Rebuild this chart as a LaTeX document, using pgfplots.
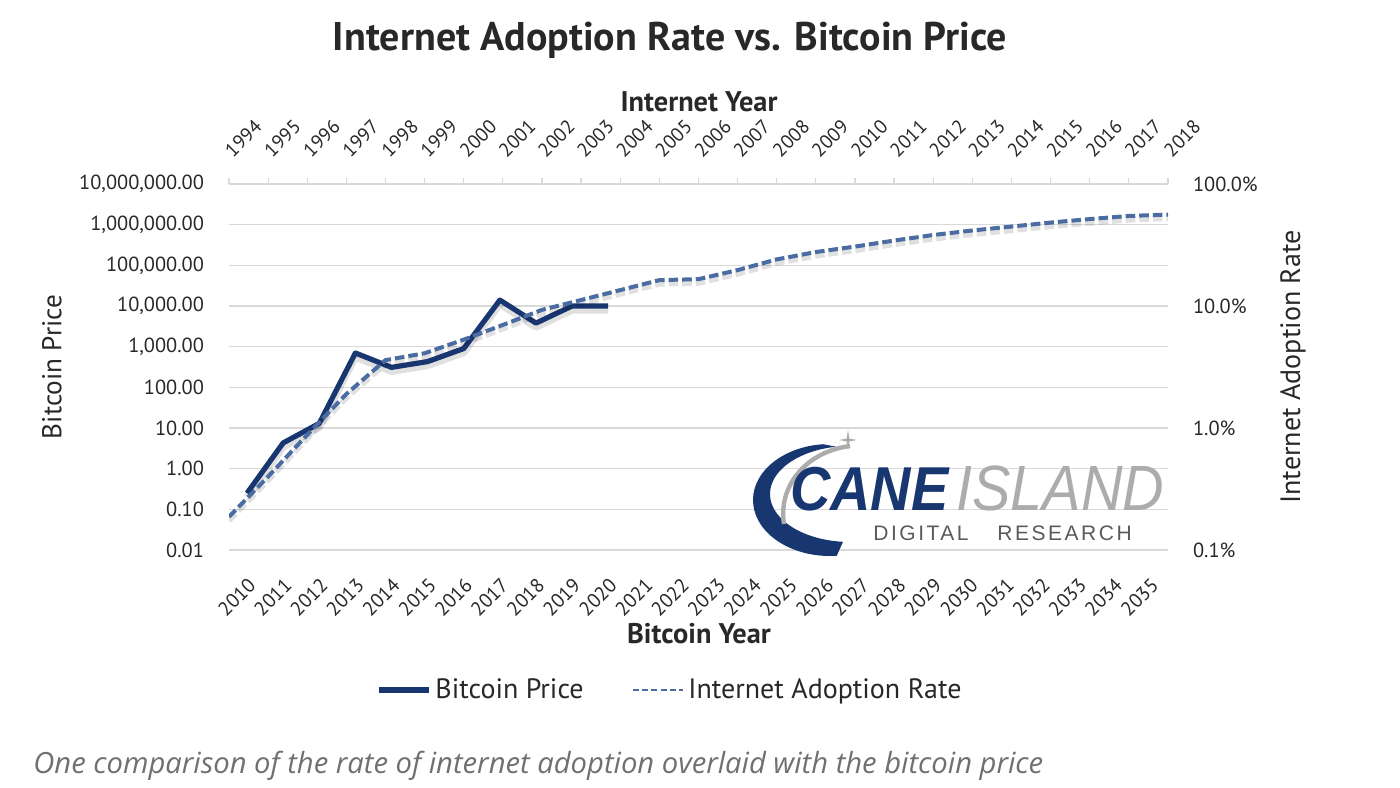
\documentclass[border=0pt]{standalone}
\usepackage{pgfplots}
\usepackage{pgfplotstable}
\pgfplotsset{compat=1.18}
\usepackage{fontspec}
\setmainfont{PT Sans}
\newfontfamily\capfont{Open Sans}
\newfontfamily\logofont[FakeStretch=0.9]{Liberation Sans}
\newfontfamily\logosmall[LetterSpace=12]{Liberation Sans}
\definecolor{btc}{RGB}{24,54,112}
\definecolor{inet}{RGB}{74,108,162}
\definecolor{gridc}{RGB}{217,217,217}
\definecolor{txt}{RGB}{40,40,40}
\definecolor{lgray}{RGB}{172,172,172}
\definecolor{dgray}{RGB}{90,90,90}
\definecolor{capc}{RGB}{112,112,112}

\pgfplotstableread{
year price
2010 0.25
2011 4.3
2012 13
2013 700
2014 310
2015 430
2016 900
2017 14000
2018 3800
2019 10000
2020 10000
}\btcdata

\pgfplotstableread{
year pct
1994 0.187
1995 0.40
1996 0.88
1997 1.9
1998 3.6
1999 4.1
2000 5.3
2001 7.0
2002 9.3
2003 11.2
2004 13.5
2005 16.3
2006 16.6
2007 19.7
2008 24.1
2009 27.7
2010 30.7
2011 34.4
2012 38.2
2013 41.6
2014 44.8
2015 48.3
2016 51.6
2017 54.7
2018 56.2
}\inetdata

\begin{document}
\begin{tikzpicture}
\useasboundingbox (0pt,0pt) rectangle (700pt,-393.5pt);

\begin{axis}[scale only axis, width=469.5pt, height=183pt,
  at={(114.5pt,-275pt)}, anchor=south west, ymode=log,
  axis line style={draw=none},
  yminorticks=false, xminorticks=false,
  tick label style={font=\fontsize{10.2}{12}\selectfont, text=txt},
  xmin=2009.5, xmax=2035.5, ymin=0.01, ymax=1e7,
  xtick={2010,...,2035},
  xticklabels={2010,2011,2012,2013,2014,2015,2016,2017,2018,2019,2020,2021,2022,2023,2024,2025,2026,2027,2028,2029,2030,2031,2032,2033,2034,2035},
  xtick pos=bottom, ytick pos=left, major tick length=0pt,
  xticklabel style={rotate=45, anchor=east, yshift=-13pt, xshift=-6pt, font=\fontsize{9.9}{11}\selectfont},
  ytick={0.01,0.1,1,10,100,1000,10000,100000,1000000,10000000},
  yticklabels={0.01,0.10,1.00,10.00,100.00,{1,000.00},{10,000.00},{100,000.00},{1,000,000.00},{10,000,000.00}},
  yticklabel style={xshift=-9pt},
  ymajorgrids, grid style={gridc, line width=0.6pt},
  legend style={at={(0.150,-0.3825)}, anchor=west, draw=none, fill=none,
    legend columns=2, font=\fontsize{14}{16}\selectfont, text=txt,
    /tikz/every even column/.append style={column sep=22pt}},
  legend image code/.code={\draw[#1] (0pt,0pt) -- (25pt,0pt);},
]
\addplot[forget plot, black, opacity=0.12, line width=3.6pt, line join=round, yshift=-2pt] table[x=year,y=price]{\btcdata};
\addplot[btc, line width=2.6pt, line join=round] table[x=year,y=price]{\btcdata};
\addlegendentry{Bitcoin Price}
\addlegendimage{inet, line width=1.4pt, dash pattern=on 3pt off 1.6pt}
\addlegendentry{Internet Adoption Rate}
\end{axis}

\begin{axis}[scale only axis, width=469.5pt, height=183pt,
  at={(114.5pt,-275pt)}, anchor=south west, ymode=log,
  axis line style={draw=none},
  yminorticks=false, xminorticks=false,
  tick label style={font=\fontsize{10.2}{12}\selectfont, text=txt},
  xmin=1994, xmax=2018, ymin=0.1, ymax=100,
  xtick={1994,...,2018},
  xticklabels={1994,1995,1996,1997,1998,1999,2000,2001,2002,2003,2004,2005,2006,2007,2008,2009,2010,2011,2012,2013,2014,2015,2016,2017,2018},
  xtick pos=top, xticklabel pos=top, ytick pos=right, yticklabel pos=right,
  tick align=outside, major tick length=3pt,
  x tick style={gridc, line width=0.6pt}, y tick style={draw=none},
  xticklabel style={rotate=45, anchor=west, yshift=9pt, xshift=5pt, font=\fontsize{9.7}{11}\selectfont},
  ytick={0.1,1,10,100},
  yticklabels={0.1\%,1.0\%,10.0\%,100.0\%},
  yticklabel style={xshift=6pt},
]
\addplot[black, opacity=0.12, line width=2.6pt, dash pattern=on 4.8pt off 2pt, yshift=-2pt] table[x=year,y=pct]{\inetdata};
\addplot[inet, line width=2pt, dash pattern=on 4.8pt off 2pt] table[x=year,y=pct]{\inetdata};
\end{axis}

% titles and labels
\node[font=\fontsize{20}{23}\selectfont\bfseries, text=txt] at (335pt,-20pt) {Internet Adoption Rate vs. Bitcoin Price};
\node[font=\fontsize{14.2}{16}\selectfont\bfseries, text=txt] at (349.5pt,-51pt) {Internet Year};
\node[font=\fontsize{14.2}{16}\selectfont\bfseries, text=txt] at (349.5pt,-317pt) {Bitcoin Year};
\node[font=\fontsize{13.6}{15}\selectfont, text=txt, rotate=90] at (26pt,-183.5pt) {Bitcoin Price};
\node[font=\fontsize{14}{15}\selectfont, text=txt, rotate=90] at (646.5pt,-183.5pt) {Internet Adoption Rate};
\node[font=\capfont\itshape\fontsize{14.6}{17}\selectfont, text=capc, anchor=west, inner sep=0pt] at (16.5pt,-383pt) {One comparison of the rate of internet adoption overlaid with the bitcoin price};

% logo
\fill[btc] (415pt,-250pt) ++(95:38.5pt and 28pt) arc[start angle=95, end angle=275, x radius=38.5pt, y radius=28pt]
  -- (421.5pt,-270.9pt) arc[start angle=265, end angle=100, x radius=40pt, y radius=24pt] -- cycle;
\draw[lgray, line width=2.2pt] (425pt,-223pt) .. controls (402pt,-226pt) and (389pt,-244pt) .. (392pt,-262pt);
\fill[lgray] (424pt,-215pt) -- (424.7pt,-219.3pt) -- (428.5pt,-220pt) -- (424.7pt,-220.7pt) -- (424pt,-225pt) -- (423.3pt,-220.7pt) -- (419.5pt,-220pt) -- (423.3pt,-219.3pt) -- cycle;
\node[anchor=base west, inner sep=0pt, text=btc, font=\logofont\bfseries\itshape\fontsize{31}{31}\selectfont] at (395pt,-255pt) {CANE};
\node[anchor=base west, inner sep=0pt, text=lgray, font=\logofont\itshape\fontsize{32}{32}\selectfont] at (478pt,-255pt) {ISLAND};
\node[anchor=base west, inner sep=0pt, text=dgray, font=\logosmall\fontsize{10.5}{12}\selectfont] at (436.5pt,-270pt) {DIGITAL};
\node[anchor=base west, inner sep=0pt, text=dgray, font=\logosmall\fontsize{10.5}{12}\selectfont] at (498.5pt,-270pt) {RESEARCH};
\end{tikzpicture}
\end{document}
